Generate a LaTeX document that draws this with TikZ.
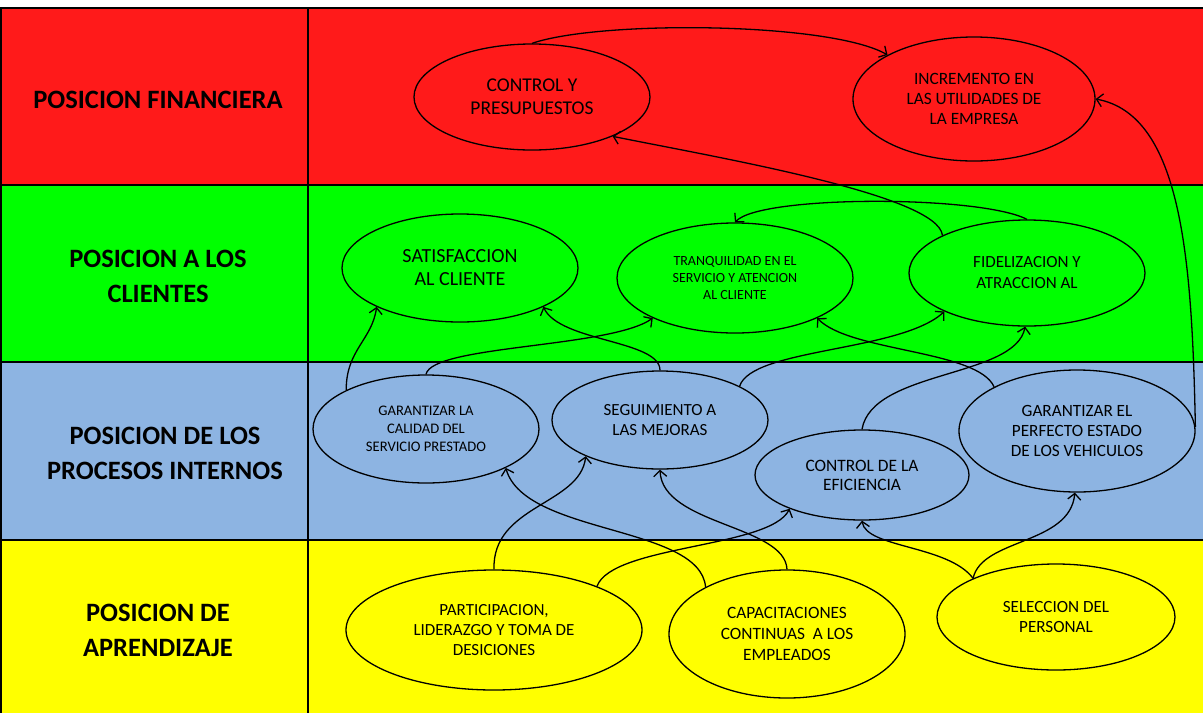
\documentclass[tikz,border=0pt]{standalone}
\usepackage{fontspec}
\setmainfont{Carlito}
\usetikzlibrary{shapes.geometric,arrows.meta}
\definecolor{rowred}{RGB}{255,26,26}
\definecolor{rowgreen}{RGB}{0,255,0}
\definecolor{rowblue}{RGB}{141,180,226}
\definecolor{rowyellow}{RGB}{255,255,0}
\begin{document}
\begin{tikzpicture}[x=1pt,y=-1pt,
  el/.style={ellipse, draw=black, line width=1.3pt, inner sep=0pt, align=center, text=black,
    font=\fontsize{17}{21}\selectfont},
  conn/.style={line width=1.3pt, draw=black, -{Straight Barb[length=6pt,width=13pt]}},
  lab/.style={font=\fontsize{26.5}{35}\selectfont\bfseries, align=center, text=black},
  grid/.style={line width=2pt, draw=black}]
\useasboundingbox (0,0) rectangle (1203,713);
\fill[white] (0,0) rectangle (1203,713);
\fill[rowred] (0,8) rectangle (1203,185);
\fill[rowgreen] (0,185) rectangle (1203,362);
\fill[rowblue] (0,362) rectangle (1203,540);
\fill[rowyellow] (0,540) rectangle (1203,713);
\draw[grid] (0,8) -- (1203,8);
\draw[grid] (0,185) -- (1203,185);
\draw[grid] (0,362) -- (1203,362);
\draw[grid] (0,540) -- (1203,540);
\draw[grid] (1,8) -- (1,713);
\draw[grid] (308,8) -- (308,713);

\node[lab] (l1) at (158,100) {POSICION FINANCIERA};
\node[lab] (l2) at (158,276) {POSICION A LOS\\CLIENTES};
\node[lab] (l3) at (165,453) {POSICION DE LOS\\PROCESOS INTERNOS};
\node[lab] (l4) at (158,630) {POSICION DE\\APRENDIZAJE};

\node[el, minimum width=236pt, minimum height=106pt, font=\fontsize{19.5}{23}\selectfont] (cp) at (532,97) {CONTROL Y\\PRESUPUESTOS};
\node[el, minimum width=242pt, minimum height=124pt, font=\fontsize{17.3}{20}\selectfont] (inc) at (974,99) {INCREMENTO EN\\LAS UTILIDADES DE\\LA EMPRESA};
\node[el, minimum width=236pt, minimum height=108pt, font=\fontsize{20}{23}\selectfont] (sat) at (460,268) {SATISFACCION\\AL CLIENTE};
\node[el, minimum width=236pt, minimum height=110pt, font=\fontsize{14}{17}\selectfont] (tra) at (735,278) {TRANQUILIDAD EN EL\\SERVICIO Y ATENCION\\AL CLIENTE};
\node[el, minimum width=236pt, minimum height=106pt, font=\fontsize{17}{21}\selectfont] (fid) at (1027,273) {FIDELIZACION Y\\ATRACCION AL};
\node[el, minimum width=226pt, minimum height=108pt, font=\fontsize{14.6}{18}\selectfont] (gcal) at (426,429) {GARANTIZAR LA\\CALIDAD DEL\\SERVICIO PRESTADO};
\node[el, minimum width=216pt, minimum height=98pt, font=\fontsize{17}{20}\selectfont] (seg) at (660,420) {SEGUIMIENTO A\\LAS MEJORAS};
\node[el, minimum width=214pt, minimum height=90pt, font=\fontsize{17.4}{19}\selectfont] (cef) at (862,475) {CONTROL DE LA\\EFICIENCIA};
\node[el, minimum width=236pt, minimum height=122pt, font=\fontsize{17.2}{20}\selectfont] (gper) at (1077,431) {GARANTIZAR EL\\PERFECTO ESTADO\\DE LOS VEHICULOS};
\node[el, minimum width=296pt, minimum height=120pt, font=\fontsize{17}{20}\selectfont] (par) at (494,630) {PARTICIPACION,\\LIDERAZGO Y TOMA DE\\DESICIONES};
\node[el, minimum width=236pt, minimum height=128pt, font=\fontsize{17.3}{21}\selectfont] (cap) at (787,634) {CAPACITACIONES\\CONTINUAS \ A LOS\\EMPLEADOS};
\node[el, minimum width=238pt, minimum height=106pt, font=\fontsize{17.1}{20}\selectfont] (sel) at (1056,617) {SELECCION DEL\\PERSONAL};

% financial row
\draw[conn] (cp.90) .. controls (600,20) and (830,22) .. (inc.153);
\draw[conn] (fid.156) .. controls (938,195) and (720,158) .. (cp.334);
\draw[conn] (fid.90) .. controls (980,195) and (760,195) .. (tra.90);
\draw[conn] (gper.2) .. controls (1192,260) and (1182,115) .. (inc.0);
% clients row
\draw[conn] (gcal.154) .. controls (346,350) and (372,340) .. (sat.205);
\draw[conn] (gcal.90) .. controls (432,345) and (610,348) .. (tra.206);
\draw[conn] (seg.90) .. controls (660,340) and (560,342) .. (sat.335);
\draw[conn] (seg.23) .. controls (752,348) and (900,352) .. (fid.205);
\draw[conn] (gper.152) .. controls (978,350) and (850,352) .. (tra.334);
\draw[conn] (cef.90) .. controls (872,370) and (1015,378) .. (fid.268);
% process row
\draw[conn] (par.90) .. controls (492,505) and (580,505) .. (seg.206);
\draw[conn] (par.23) .. controls (612,545) and (770,548) .. (cef.205);
\draw[conn] (cap.150) .. controls (700,525) and (525,535) .. (gcal.334);
\draw[conn] (cap.90) .. controls (785,525) and (662,525) .. (seg.270);
\draw[conn] (sel.155) .. controls (948,545) and (866,548) .. (cef.270);
\draw[conn] (sel.155) .. controls (982,538) and (1070,545) .. (gper.268);
\end{tikzpicture}
\end{document}
